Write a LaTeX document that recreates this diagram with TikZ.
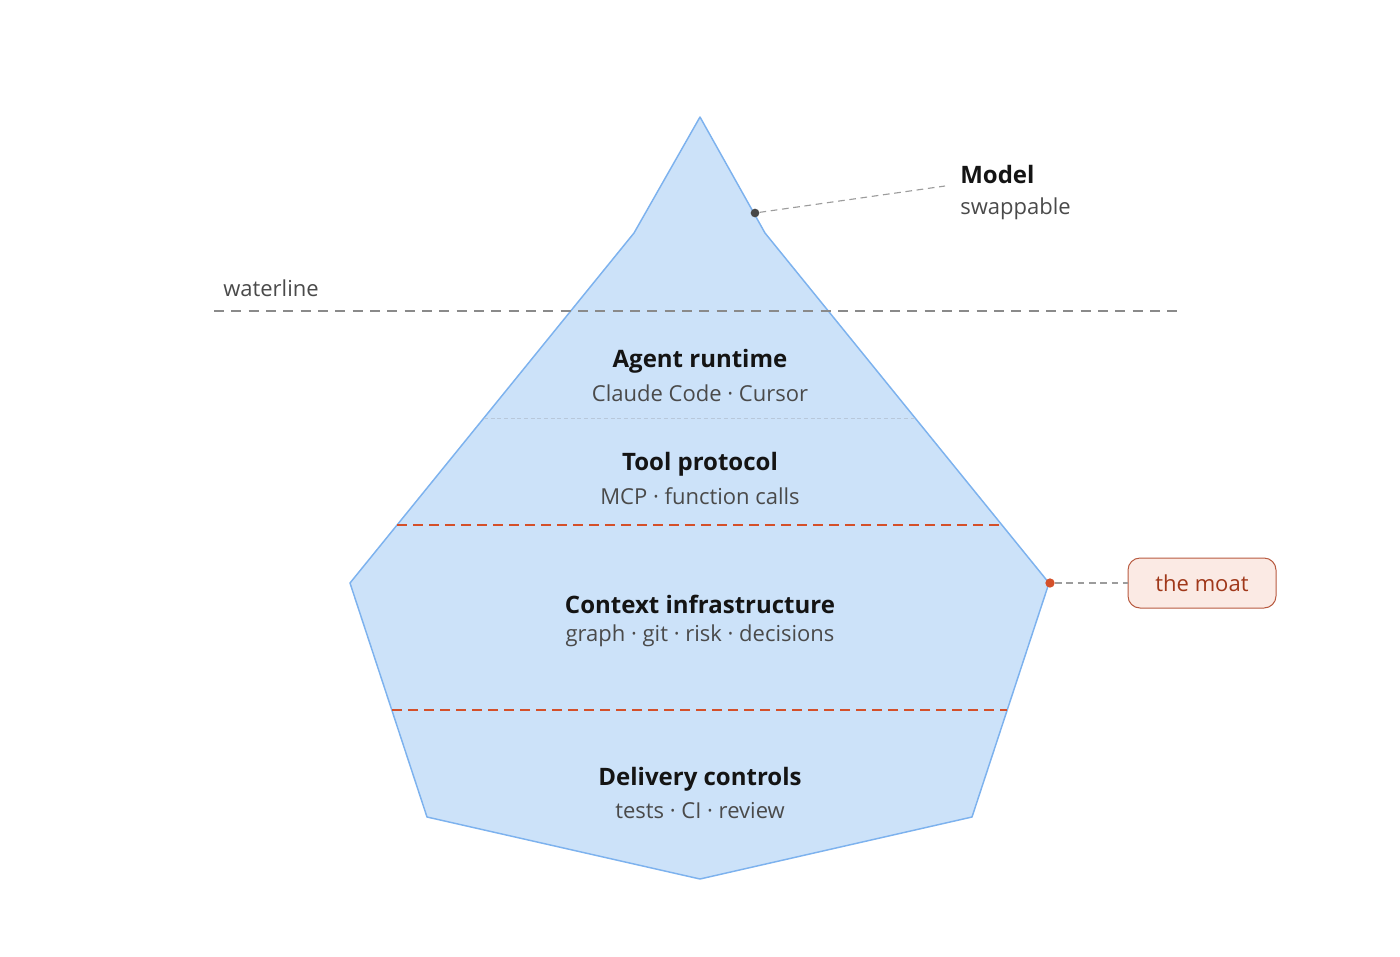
\documentclass[tikz,border=0pt]{standalone}
\usepackage{fontspec}
\setmainfont{Open Sans}
\definecolor{icefill}{HTML}{CCE2F9}
\definecolor{iceedge}{HTML}{7DB2EE}
\definecolor{moatred}{HTML}{D4502A}
\definecolor{moatfill}{HTML}{FBEAE4}
\definecolor{moatedge}{HTML}{B85A40}
\definecolor{moattext}{HTML}{A0381A}
\definecolor{subgray}{HTML}{4A4A4A}
\definecolor{linegray}{HTML}{8A8A8A}
\definecolor{faint}{HTML}{B8C8DA}
\tikzset{
  title/.style={font=\bfseries\fontsize{18}{21}\selectfont, text=black!92, inner sep=0pt, anchor=center},
  sub/.style={font=\fontsize{16.5}{19}\selectfont, text=subgray, inner sep=0pt, anchor=center},
  redline/.style={draw=moatred, line width=1.1pt, dash pattern=on 7.5pt off 4.5pt},
  waterdash/.style={draw=linegray, line width=1pt, dash pattern=on 7.5pt off 5.5pt},
  leader/.style={draw=linegray!85, line width=0.85pt, dash pattern=on 5pt off 3.5pt},
}
\begin{document}
\begin{tikzpicture}[x=0.75pt,y=-0.75pt]
\useasboundingbox (0,0) rectangle (1400,957);
% iceberg
\draw[fill=icefill, draw=iceedge, line width=1.1pt, line join=round]
  (700,117) -- (765,233) -- (1049,583) -- (972,817) -- (700,879) -- (427,817) -- (350,583) -- (634,233) -- cycle;
% faint divider
\draw[draw=faint, line width=0.6pt, dash pattern=on 3pt off 2pt] (484,418) -- (916,418);
% red dashed dividers
\coordinate (r1a) at (397,525); \coordinate (r1b) at (1002,525);
\coordinate (r2a) at (392,710); \coordinate (r2b) at (1007,710);
\draw[redline] (r1a) -- (r1b);
\draw[redline] (r2a) -- (r2b);
% waterline
\coordinate (w1) at (214,311); \coordinate (w2) at (1180,311);
\draw[waterdash] (w1) -- (w2);
\node[font=\fontsize{16.5}{19}\selectfont, text=subgray, anchor=west, inner sep=0pt] (wl) at (223,288) {waterline};
% layer labels
\node[title] (t1) at (700,361) {Agent runtime};
\node[sub] (s1) at (700,393) {Claude Code · Cursor};
\node[title] (t2) at (700,464) {Tool protocol};
\node[sub] (s2) at (700,496) {MCP · function calls};
\node[title] (t3) at (700,604) {Context infrastructure};
\node[sub] (s3) at (700,636) {graph · git · risk · decisions};
\node[title] (t4) at (700,779) {Delivery controls};
\node[sub] (s4) at (700,811) {tests · CI · review};
% model callout
\node[circle, fill=black!72, inner sep=0pt, minimum size=6.5pt] (md) at (755,213) {};
\coordinate (me) at (945,186);
\draw[leader] (md) -- (me);
\node[title, anchor=west] (mt) at (960,174) {Model};
\node[sub, anchor=west] (ms) at (960,209) {swappable};
% moat callout
\node[circle, fill=moatred, inner sep=0pt, minimum size=7pt] (mo) at (1050,583) {};
\node[draw=moatedge, fill=moatfill, rounded corners=9pt, line width=0.75pt, minimum width=111pt, minimum height=37.5pt, inner sep=0pt, text=moattext, font=\fontsize{16.5}{19}\selectfont] (moat) at (1202,583) {the moat};
\draw[leader] (mo) -- (moat.west);
\end{tikzpicture}
\end{document}
